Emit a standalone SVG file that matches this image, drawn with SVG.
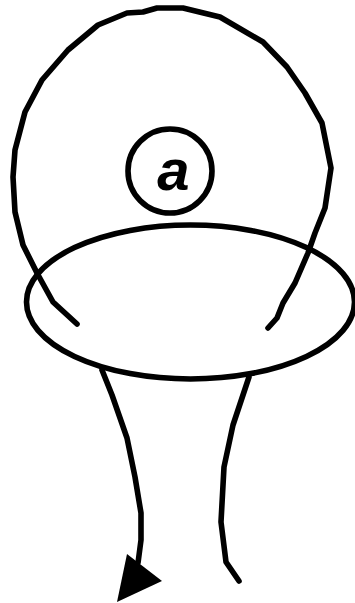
<svg xmlns="http://www.w3.org/2000/svg" width="355" height="603" viewBox="0 0 355 603">
<style>
.l{fill:none;stroke:#000;stroke-width:5.6;stroke-linecap:round;stroke-linejoin:round}
.t{font-family:"Liberation Sans",Arial,sans-serif;font-weight:bold;font-style:italic;font-size:58px;fill:#000}
</style>
<rect width="355" height="603" fill="#fff"/>
<g id="connectors">
<path class="l" d="M77,324 53,302 37,273 23,245 15,212 13,177 15,150 25,112 42,80 68,50 98,25 127,13 143,12 157,8 183,8 220,17 263,42 287,67 305,93 322,123 331,168 325,208 315,233 308,253 295,283 283,303 277,318 268,328"/>
<path class="l" d="M102,370 112,395 127,438 135,477 141,513 141,540 138,563"/>
<polygon points="127,554 162,581 117,602" fill="#000"/>
<path class="l" d="M249,377 233,425 224,467 221,522 226,562 239,581"/>
</g>
<g id="ring"><ellipse class="l" cx="190.5" cy="302" rx="164" ry="77"/></g>
<g id="node-a">
<circle class="l" cx="170" cy="171" r="42" stroke-width="6"/>
<text class="t" x="173.5" y="190" text-anchor="middle">a</text>
</g>
</svg>
